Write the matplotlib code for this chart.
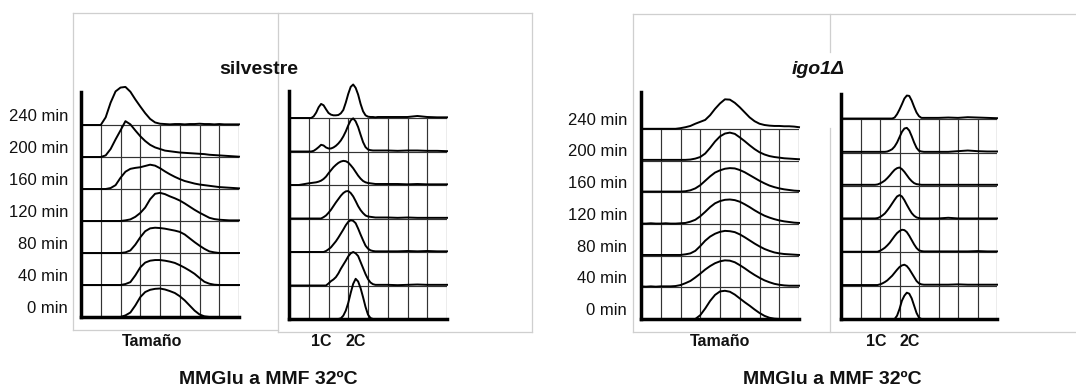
import numpy as np
import matplotlib
matplotlib.use("Agg")
import matplotlib.pyplot as plt
from matplotlib.lines import Line2D
from matplotlib import transforms

plt.rcParams["font.family"] = ["Liberation Sans", "DejaVu Sans"]

W, H = 1076, 390

time_labels = ["0 min", "40 min", "80 min", "120 min", "160 min", "200 min", "240 min"]

# channel positions (in grid columns) at which each histogram is sampled
size_channels = np.arange(0, 8.001, 0.25)
dna_channels = np.concatenate([[0.0, 0.5], np.arange(1.0, 4.501, 0.125), np.arange(5.0, 8.001, 0.5)])

# cell size histograms, wild type (heights in row units, one list per time point)
wt_size = [
    [0, 0, 0, 0, 0, 0, 0, 0, 0, 0.05, 0.14, 0.36, 0.62, 0.78, 0.85, 0.88, 0.89, 0.86, 0.81, 0.75,
     0.65, 0.52, 0.36, 0.2, 0.08, 0.02, 0, 0, 0, 0, 0, 0, 0],
    [0, 0, 0, 0, 0, 0, 0, 0, 0, 0.03, 0.09, 0.3, 0.55, 0.7, 0.76, 0.78, 0.78, 0.76, 0.73, 0.69,
     0.62, 0.54, 0.45, 0.35, 0.22, 0.1, 0.04, 0.01, 0, 0, 0, 0, 0],
    [0, 0, 0, 0, 0, 0, 0, 0, 0, 0.02, 0.08, 0.26, 0.49, 0.68, 0.77, 0.79, 0.78, 0.76, 0.73, 0.7,
     0.66, 0.58, 0.46, 0.34, 0.23, 0.13, 0.05, 0.02, 0, 0, 0, 0, 0],
    [0, 0, 0, 0, 0, 0, 0, 0, 0, 0.02, 0.05, 0.13, 0.25, 0.42, 0.68, 0.85, 0.88, 0.84, 0.77, 0.71,
     0.64, 0.55, 0.45, 0.35, 0.26, 0.18, 0.1, 0.06, 0.04, 0.03, 0.02, 0.02, 0.02],
    [0, 0, 0, 0, 0, 0, 0.03, 0.12, 0.35, 0.54, 0.63, 0.66, 0.68, 0.72, 0.76, 0.73, 0.65, 0.55, 0.46,
     0.38, 0.31, 0.25, 0.21, 0.17, 0.14, 0.12, 0.1, 0.08, 0.06, 0.05, 0.04, 0.03, 0.02],
    [0, 0, 0, 0, 0, 0.05, 0.25, 0.55, 0.83, 1.12, 1.02, 0.83, 0.65, 0.5, 0.38, 0.3, 0.25, 0.2, 0.18,
     0.16, 0.14, 0.13, 0.12, 0.11, 0.1, 0.09, 0.07, 0.06, 0.05, 0.04, 0.03, 0.02, 0.01],
    [0, 0, 0, 0, 0, 0.24, 0.7, 1.05, 1.17, 1.19, 1.04, 0.8, 0.58, 0.37, 0.19, 0.08, 0.04, 0.03, 0.02,
     0.03, 0.03, 0.02, 0.03, 0.03, 0.04, 0.03, 0.03, 0.02, 0.03, 0.02, 0.02, 0.02, 0.02],
]

# DNA content histograms, wild type
wt_dna = [
    [0, 0, 0, 0, 0, 0, 0, 0, 0, 0, 0, 0, 0, 0, 0, 0.02, 0.1, 0.25, 0.48, 0.78, 1.05, 1.2, 1.12,
     0.92, 0.65, 0.36, 0.13, 0.03, 0, 0, 0, 0, 0, 0, 0, 0, 0, 0],
    [0, 0, 0, 0, 0, 0, 0, 0, 0, 0, 0.06, 0.13, 0.18, 0.25, 0.36, 0.5, 0.62, 0.74, 0.87, 0.96, 1.0,
     0.96, 0.88, 0.7, 0.52, 0.34, 0.19, 0.09, 0.04, 0.02, 0.02, 0.02, 0.01, 0.02, 0.03, 0.02, 0.02, 0.02],
    [0, 0, 0, 0, 0, 0, 0, 0, 0, 0.03, 0.08, 0.14, 0.23, 0.32, 0.43, 0.55, 0.67, 0.8, 0.9, 0.95, 0.93,
     0.86, 0.7, 0.52, 0.35, 0.19, 0.1, 0.05, 0.03, 0.02, 0.02, 0.02, 0.02, 0.03, 0.02, 0.03, 0.02, 0.02],
    [0, 0, 0, 0, 0, 0, 0, 0, 0.04, 0.09, 0.17, 0.26, 0.37, 0.48, 0.58, 0.68, 0.76, 0.81, 0.82, 0.76,
     0.66, 0.52, 0.37, 0.25, 0.16, 0.09, 0.06, 0.05, 0.04, 0.03, 0.03, 0.03, 0.02, 0.03, 0.02, 0.02,
     0.02, 0.02],
    [0, 0, 0.05, 0.06, 0.07, 0.08, 0.1, 0.13, 0.18, 0.25, 0.35, 0.44, 0.53, 0.6, 0.66, 0.7, 0.72,
     0.71, 0.67, 0.59, 0.5, 0.39, 0.28, 0.19, 0.12, 0.08, 0.06, 0.05, 0.04, 0.03, 0.03, 0.03, 0.03,
     0.02, 0.03, 0.02, 0.02, 0.02],
    [0, 0, 0, 0, 0.02, 0.07, 0.13, 0.2, 0.18, 0.12, 0.09, 0.09, 0.12, 0.17, 0.24, 0.33, 0.45, 0.6,
     0.78, 0.93, 0.99, 0.9, 0.73, 0.5, 0.28, 0.13, 0.06, 0.04, 0.03, 0.03, 0.03, 0.03, 0.02, 0.03,
     0.03, 0.02, 0.02, 0.01],
    [0, 0, 0, 0, 0.05, 0.16, 0.32, 0.42, 0.38, 0.26, 0.15, 0.1, 0.08, 0.08, 0.09, 0.14, 0.24, 0.46,
     0.72, 0.93, 1.0, 0.9, 0.7, 0.42, 0.2, 0.08, 0.04, 0.03, 0.03, 0.02, 0.03, 0.03, 0.03, 0.03,
     0.06, 0.03, 0.02, 0.02],
]

# cell size histograms, igo1 deletion
igo_size = [
    [0, 0, 0, 0, 0, 0, 0, 0, 0, 0, 0, 0, 0.12, 0.33, 0.57, 0.76, 0.87, 0.89, 0.86, 0.77, 0.65, 0.53,
     0.42, 0.3, 0.19, 0.1, 0.04, 0.01, 0, 0, 0, 0, 0],
    [0.03, 0.02, 0.03, 0.02, 0.03, 0.03, 0.03, 0.04, 0.07, 0.13, 0.2, 0.31, 0.43, 0.56, 0.67, 0.76,
     0.82, 0.85, 0.84, 0.79, 0.7, 0.6, 0.49, 0.39, 0.3, 0.22, 0.16, 0.11, 0.08, 0.06, 0.05, 0.05, 0.05],
    [0.02, 0.02, 0.02, 0.02, 0.02, 0.02, 0.02, 0.02, 0.02, 0.04, 0.07, 0.15, 0.3, 0.47, 0.6, 0.69,
     0.75, 0.78, 0.77, 0.74, 0.67, 0.58, 0.48, 0.38, 0.29, 0.21, 0.15, 0.1, 0.07, 0.05, 0.04, 0.03, 0.02],
    [0.01, 0.01, 0.02, 0.01, 0.01, 0.02, 0.01, 0.01, 0.02, 0.03, 0.07, 0.13, 0.24, 0.38, 0.53, 0.65,
     0.72, 0.76, 0.77, 0.75, 0.7, 0.62, 0.53, 0.43, 0.34, 0.26, 0.2, 0.15, 0.11, 0.08, 0.06, 0.04, 0.03],
    [0.02, 0.02, 0.02, 0.02, 0.02, 0.02, 0.02, 0.02, 0.02, 0.03, 0.06, 0.12, 0.22, 0.36, 0.5, 0.62,
     0.69, 0.74, 0.76, 0.75, 0.7, 0.63, 0.54, 0.45, 0.36, 0.28, 0.21, 0.16, 0.12, 0.09, 0.07, 0.05, 0.04],
    [0.02, 0.02, 0.02, 0.02, 0.02, 0.02, 0.02, 0.02, 0.02, 0.02, 0.03, 0.06, 0.11, 0.22, 0.4, 0.6,
     0.76, 0.85, 0.88, 0.84, 0.73, 0.61, 0.48, 0.36, 0.26, 0.19, 0.14, 0.11, 0.09, 0.07, 0.06, 0.05, 0.04],
    [0, 0, 0, 0, 0, 0, 0, 0, 0.02, 0.05, 0.09, 0.16, 0.22, 0.28, 0.43, 0.63, 0.8, 0.93, 0.92, 0.82,
     0.68, 0.52, 0.36, 0.24, 0.16, 0.12, 0.1, 0.09, 0.09, 0.08, 0.08, 0.07, 0.05],
]

# DNA content histograms, igo1 deletion
igo_dna = [
    [0, 0, 0, 0, 0, 0, 0, 0, 0, 0, 0, 0, 0, 0, 0, 0, 0, 0.1, 0.3, 0.55, 0.7, 0.79, 0.76, 0.62, 0.4,
     0.18, 0.04, 0, 0, 0, 0, 0, 0, 0, 0, 0, 0, 0],
    [0.02, 0.02, 0.02, 0.02, 0.02, 0.02, 0.02, 0.02, 0.02, 0.02, 0.04, 0.07, 0.11, 0.16, 0.23, 0.3,
     0.39, 0.48, 0.56, 0.61, 0.63, 0.59, 0.5, 0.38, 0.26, 0.14, 0.07, 0.04, 0.03, 0.03, 0.03, 0.03,
     0.03, 0.04, 0.03, 0.03, 0.03, 0.03],
    [0.02, 0.02, 0.02, 0.02, 0.02, 0.02, 0.02, 0.02, 0.02, 0.02, 0.05, 0.09, 0.14, 0.21, 0.29, 0.39,
     0.49, 0.58, 0.64, 0.68, 0.67, 0.61, 0.5, 0.37, 0.24, 0.13, 0.06, 0.04, 0.03, 0.03, 0.03, 0.03,
     0.03, 0.03, 0.03, 0.04, 0.03, 0.03],
    [0.02, 0.02, 0.02, 0.02, 0.02, 0.02, 0.02, 0.02, 0.02, 0.03, 0.06, 0.11, 0.17, 0.26, 0.36, 0.47,
     0.58, 0.68, 0.72, 0.68, 0.57, 0.43, 0.3, 0.18, 0.1, 0.05, 0.03, 0.02, 0.02, 0.02, 0.02, 0.02,
     0.04, 0.02, 0.02, 0.02, 0.02, 0.02],
    [0.03, 0.03, 0.03, 0.03, 0.03, 0.03, 0.03, 0.03, 0.03, 0.04, 0.07, 0.11, 0.16, 0.23, 0.31, 0.4,
     0.48, 0.53, 0.55, 0.5, 0.42, 0.32, 0.22, 0.14, 0.08, 0.05, 0.04, 0.03, 0.03, 0.03, 0.03, 0.03,
     0.03, 0.03, 0.03, 0.03, 0.03, 0.03],
    [0.02, 0.02, 0.02, 0.02, 0.02, 0.02, 0.02, 0.02, 0.02, 0.02, 0.02, 0.02, 0.02, 0.03, 0.06, 0.1,
     0.18, 0.3, 0.46, 0.62, 0.72, 0.74, 0.66, 0.49, 0.3, 0.14, 0.05, 0.03, 0.02, 0.02, 0.02, 0.02,
     0.02, 0.04, 0.06, 0.04, 0.03, 0.03],
    [0.02, 0.02, 0.02, 0.02, 0.02, 0.02, 0.02, 0.02, 0.02, 0.02, 0.02, 0.02, 0.02, 0.02, 0.02, 0.02,
     0.05, 0.15, 0.29, 0.45, 0.62, 0.71, 0.7, 0.56, 0.37, 0.2, 0.09, 0.04, 0.04, 0.04, 0.04, 0.04,
     0.05, 0.04, 0.06, 0.05, 0.04, 0.03],
]

GRID = "#333333"
BOX = "#cfcfcf"

fig = plt.figure(figsize=(W / 100, H / 100), dpi=100)
fig.patch.set_facecolor("white")


def fx(x):
    return x / W


def fy(y):
    return 1 - y / H


def stacked_panel(x0, x1, axis_top, ybot, row_px, channels, curves, label_x=None):
    ax = fig.add_axes([fx(x0), fy(ybot), (x1 - x0) / W, (ybot - axis_top) / H])
    ax.set_xlim(0, 8)
    ax.set_ylim(0, (ybot - axis_top) / row_px)
    ax.patch.set_alpha(0)
    for side in ("top", "right"):
        ax.spines[side].set_visible(False)
    for side in ("left", "bottom"):
        ax.spines[side].set_linewidth(2.5)
        ax.spines[side].set_color("black")
        ax.spines[side].set_capstyle("projecting")
    ax.set_xticks([])
    ax.set_yticks([])
    n = len(curves)
    ax.vlines(np.arange(1, 9), 0, n - 1, color=GRID, lw=0.85, zorder=1)
    ax.hlines(np.arange(1, n), 0, 8, color=GRID, lw=0.85, zorder=1)
    for k, vals in enumerate(curves):
        ax.plot(channels, k + np.asarray(vals), color="black", lw=1.4, zorder=3,
                clip_on=False, solid_joinstyle="round")
    if label_x is not None:
        tr = transforms.blended_transform_factory(fig.transFigure, ax.transData)
        for k, lab in enumerate(time_labels):
            ax.text(fx(label_x), k + 0.27, lab, transform=tr, ha="right", va="center",
                    fontsize=12, color="#111111")
    return ax


def gray_line(xs, ys):
    fig.add_artist(Line2D([fx(v) for v in xs], [fy(v) for v in ys], color=BOX, lw=0.9,
                          transform=fig.transFigure, zorder=0))


# frames around the two experiments
gray_line([73, 532], [13, 13])
gray_line([73, 73], [13, 330])
gray_line([73, 278], [330, 330])
gray_line([278, 278], [13, 332])
gray_line([278, 532], [332, 332])
gray_line([532, 532], [13, 332])

gray_line([633, 1076], [14, 14])
gray_line([633, 633], [14, 332])
gray_line([633, 1076], [332, 332])
gray_line([830, 830], [14, 52])
gray_line([830, 830], [128, 332])

# wild type
stacked_panel(81, 239, 92, 317, 32.0, size_channels, wt_size, label_x=68)
stacked_panel(289, 447, 91, 319, 33.5, dna_channels, wt_dna)
# igo1 deletion
stacked_panel(641, 799, 92, 319, 31.7, size_channels, igo_size, label_x=627)
stacked_panel(841, 997, 94, 319, 33.3, dna_channels, igo_dna)

bold = dict(fontweight="bold", ha="center", va="center", color="#111111")
fig.text(fx(259), fy(69), "silvestre", fontsize=14, **bold)
fig.text(fx(818), fy(70), "igo1Δ", fontsize=14, fontstyle="italic", **bold)

fig.text(fx(152), fy(342), "Tamaño", fontsize=11.5, **bold)
fig.text(fx(321), fy(342), "1C", fontsize=11.5, **bold)
fig.text(fx(356), fy(342), "2C", fontsize=11.5, **bold)
fig.text(fx(720), fy(342), "Tamaño", fontsize=11.5, **bold)
fig.text(fx(876), fy(342), "1C", fontsize=11.5, **bold)
fig.text(fx(910), fy(342), "2C", fontsize=11.5, **bold)

fig.text(fx(268), fy(380), "MMGlu a MMF 32ºC", fontsize=14, **bold)
fig.text(fx(832), fy(380), "MMGlu a MMF 32ºC", fontsize=14, **bold)

fig.savefig("out.png", dpi=100, facecolor="white")
